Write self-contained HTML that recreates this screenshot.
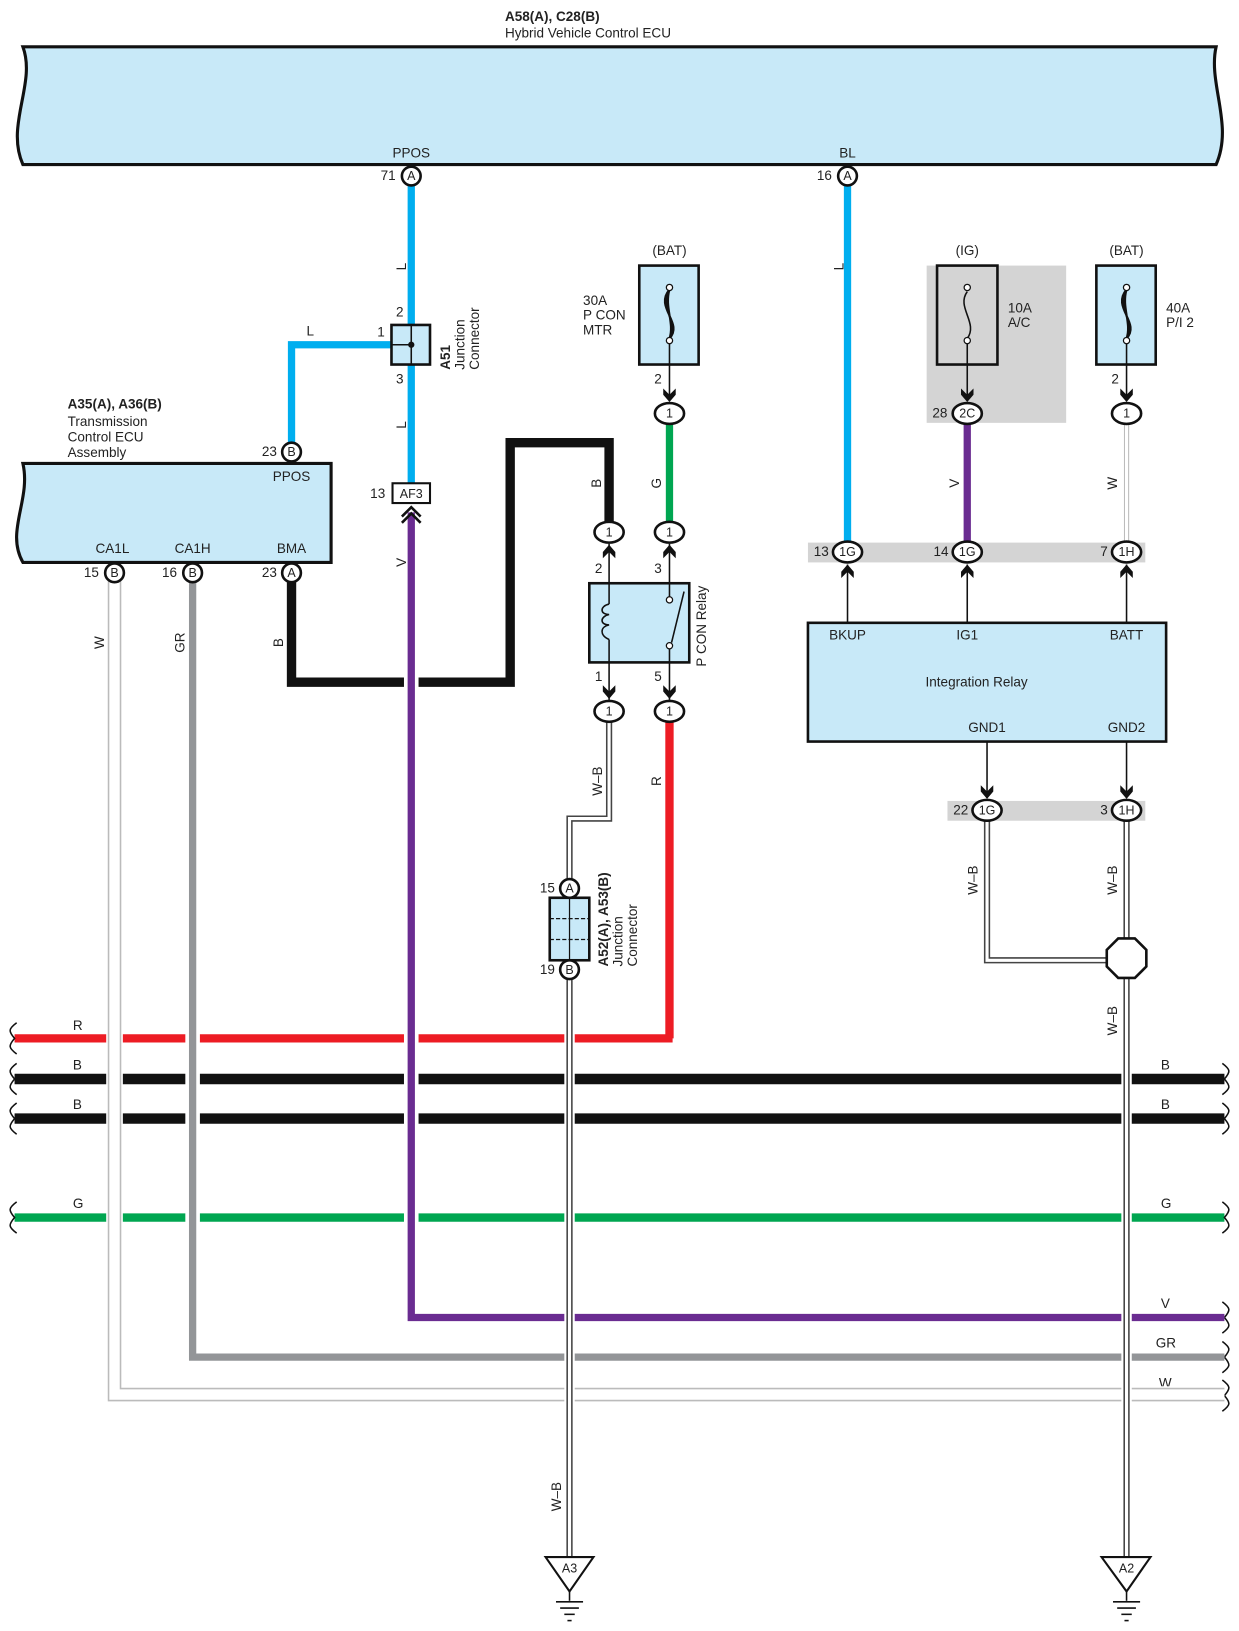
<!DOCTYPE html>
<html><head><meta charset="utf-8"><style>
html,body{margin:0;padding:0;background:#fff}
svg{display:block}
text{font-family:"Liberation Sans Narrow","Liberation Sans",sans-serif;font-size:13px;fill:#222}
.b{font-weight:bold}
.c{text-anchor:middle}
.e{text-anchor:end}
.cn{fill:#fff;stroke:#111;stroke-width:2.5}
.ci{font-size:12px;text-anchor:middle;font-weight:500}
</style></head><body>
<svg width="1239" height="1631" viewBox="0 0 1190 1566" preserveAspectRatio="none" xmlns="http://www.w3.org/2000/svg">
<defs>
<g id="ad"><path d="M-6,-9 L0,-3 L6,-9 L6,-3 L0,4 L-6,-3 Z" fill="#111"/></g>
<g id="au"><path d="M-6,9 L0,3 L6,9 L6,3 L0,-4 L-6,3 Z" fill="#111"/></g>
</defs>

<!-- top ECU -->
<text x="485" y="20" class="b">A58(A), C28(B)</text>
<text x="485" y="36">Hybrid Vehicle Control ECU</text>
<path d="M22,45 L1168,45 C1160,80 1185,120 1168,158 L22,158 C5,120 35,80 22,45 Z" fill="#c8e9f8" stroke="#111" stroke-width="3"/>
<text x="395" y="151" class="c">PPOS</text>
<text x="814" y="151" class="c">BL</text>

<!-- horizontal bus wires -->
<line x1="14" y1="997" x2="646" y2="997" stroke="#ed1c24" stroke-width="8"/>
<polyline points="643,691 643,997" fill="none" stroke="#ed1c24" stroke-width="8"/>
<line x1="14" y1="1036" x2="1176" y2="1036" stroke="#111" stroke-width="10"/>
<line x1="14" y1="1074" x2="1176" y2="1074" stroke="#111" stroke-width="10"/>
<line x1="14" y1="1169" x2="1176" y2="1169" stroke="#00a651" stroke-width="8"/>
<g fill="none" stroke="#111" stroke-width="1.5">
<path d="M16,982 C8,988 8,990 14,997 C8,1004 8,1006 16,1012"/>
<path d="M16,1021 C8,1027 8,1029 14,1036 C8,1043 8,1045 16,1051"/>
<path d="M16,1059 C8,1065 8,1067 14,1074 C8,1081 8,1083 16,1089"/>
<path d="M16,1154 C8,1160 8,1162 14,1169 C8,1176 8,1178 16,1184"/>
<path d="M1174,1021 C1182,1027 1182,1029 1176,1036 C1182,1043 1182,1045 1174,1051"/>
<path d="M1174,1059 C1182,1065 1182,1067 1176,1074 C1182,1081 1182,1083 1174,1089"/>
<path d="M1174,1154 C1182,1160 1182,1162 1176,1169 C1182,1176 1182,1178 1174,1184"/>
<path d="M1174,1250 C1182,1256 1182,1258 1176,1265 C1182,1272 1182,1274 1174,1280"/>
<path d="M1174,1288 C1182,1294 1182,1296 1176,1303 C1182,1310 1182,1312 1174,1318"/>
<path d="M1174,1325 C1182,1331 1182,1333 1176,1340 C1182,1347 1182,1349 1174,1355"/>
</g>
<text x="70" y="989">R</text><text x="70" y="1027">B</text><text x="70" y="1065">B</text><text x="70" y="1160">G</text>
<text x="1115" y="1027">B</text><text x="1115" y="1065">B</text><text x="1115" y="1160">G</text>
<text x="1115" y="1256">V</text><text x="1110" y="1294">GR</text><text x="1113" y="1332">W</text>

<!-- W wire -->
<polyline points="110,558 110,1339 1176,1339" fill="none" stroke="#fff" stroke-width="16"/>
<polyline points="110,558 110,1339 1176,1339" fill="none" stroke="#bbb" stroke-width="13"/>
<polyline points="110,558 110,1339 1176,1339" fill="none" stroke="#fff" stroke-width="10"/>
<!-- GR wire -->
<polyline points="185,558 185,1303 1176,1303" fill="none" stroke="#fff" stroke-width="14"/>
<polyline points="185,558 185,1303 1176,1303" fill="none" stroke="#939598" stroke-width="7"/>
<!-- B loop -->
<polyline points="280,558 280,655 490,655 490,425 585,425 585,503" fill="none" stroke="#111" stroke-width="9"/>
<!-- V wire -->
<polyline points="395,492 395,1265 1176,1265" fill="none" stroke="#fff" stroke-width="14"/>
<polyline points="395,492 395,1265 1176,1265" fill="none" stroke="#6a2c91" stroke-width="7"/>
<!-- blue wires -->
<line x1="395" y1="178" x2="395" y2="464" stroke="#00aeef" stroke-width="7"/>
<polyline points="395,331 280,331 280,426" fill="none" stroke="#00aeef" stroke-width="7"/>
<line x1="814" y1="178" x2="814" y2="522" stroke="#00aeef" stroke-width="7"/>

<!-- W-B wires -->
<g fill="none">
<polyline points="585,691 585,786 547,786 547,845" stroke="#fff" stroke-width="10"/>
<polyline points="585,691 585,786 547,786 547,845" stroke="#444" stroke-width="6"/>
<polyline points="585,691 585,786 547,786 547,845" stroke="#fff" stroke-width="3"/>
<polyline points="547,939 547,1495" stroke="#fff" stroke-width="10"/>
<polyline points="547,939 547,1495" stroke="#444" stroke-width="6"/>
<polyline points="547,939 547,1495" stroke="#fff" stroke-width="3"/>
<polyline points="948,786 948,922 1070,922" stroke="#444" stroke-width="6"/>
<polyline points="948,786 948,922 1070,922" stroke="#fff" stroke-width="3"/>
<polyline points="1082,786 1082,1495" stroke="#fff" stroke-width="10"/>
<polyline points="1082,786 1082,1495" stroke="#444" stroke-width="6"/>
<polyline points="1082,786 1082,1495" stroke="#fff" stroke-width="3"/>
</g>
<line x1="643" y1="405" x2="643" y2="503" stroke="#00a651" stroke-width="7"/>
<line x1="929" y1="405" x2="929" y2="522" stroke="#6a2c91" stroke-width="7"/>
<line x1="1082" y1="405" x2="1082" y2="522" stroke="#bbb" stroke-width="5"/>
<line x1="1082" y1="405" x2="1082" y2="522" stroke="#fff" stroke-width="3"/>

<!-- connectors top -->
<circle cx="395" cy="169" r="9" class="cn"/><text x="395" y="173" class="ci">A</text><text x="380" y="173" class="e">71</text>
<circle cx="814" cy="169" r="9" class="cn"/><text x="814" y="173" class="ci">A</text><text x="799" y="173" class="e">16</text>
<text x="386" y="260" transform="rotate(-90 386 256)" class="c">L</text>
<text x="806" y="260" transform="rotate(-90 806 256)" class="c">L</text>
<text x="386" y="412" transform="rotate(-90 386 408)" class="c">L</text>
<text x="386" y="544" transform="rotate(-90 386 540)" class="c">V</text>

<!-- A51 -->
<rect x="376" y="312" width="37" height="38" fill="#c8e9f8" stroke="#111" stroke-width="2.5"/>
<line x1="395" y1="312" x2="395" y2="350" stroke="#111" stroke-width="1.5"/>
<line x1="376" y1="331" x2="395" y2="331" stroke="#111" stroke-width="1.5"/>
<circle cx="395" cy="331" r="3" fill="#111"/>
<text x="384" y="304" class="c">2</text><text x="366" y="323" class="c">1</text><text x="384" y="368" class="c">3</text>
<text x="298" y="322" class="c">L</text>
<text transform="translate(432,355) rotate(-90)" class="b">A51</text>
<text transform="translate(446,355) rotate(-90)">Junction</text>
<text transform="translate(460,355) rotate(-90)">Connector</text>

<!-- AF3 -->
<rect x="377" y="464" width="36" height="19" fill="#fff" stroke="#111" stroke-width="2"/>
<text x="395" y="478" class="c" style="font-size:12px">AF3</text>
<text x="370" y="478" class="e">13</text>
<path d="M386,496 L395,487 L404,496 M386,502 L395,493 L404,502" fill="none" stroke="#111" stroke-width="2.5"/>

<!-- Transmission ECU -->
<text x="65" y="392" class="b">A35(A), A36(B)</text>
<text x="65" y="409">Transmission</text>
<text x="65" y="424">Control ECU</text>
<text x="65" y="439">Assembly</text>
<path d="M22,445 L318,445 L318,540 L22,540 C5,510 30,480 22,445 Z" fill="#c8e9f8" stroke="#111" stroke-width="3"/>
<text x="280" y="462" class="c">PPOS</text>
<text x="108" y="531" class="c">CA1L</text><text x="185" y="531" class="c">CA1H</text><text x="280" y="531" class="c">BMA</text>
<circle cx="280" cy="434" r="9" class="cn"/><text x="280" y="438" class="ci">B</text><text x="266" y="438" class="e">23</text>
<circle cx="110" cy="550" r="9" class="cn"/><text x="110" y="554" class="ci">B</text><text x="95" y="554" class="e">15</text>
<circle cx="185" cy="550" r="9" class="cn"/><text x="185" y="554" class="ci">B</text><text x="170" y="554" class="e">16</text>
<circle cx="280" cy="550" r="9" class="cn"/><text x="280" y="554" class="ci">A</text><text x="266" y="554" class="e">23</text>
<text transform="translate(100,617) rotate(-90)" class="c">W</text>
<text transform="translate(177,617) rotate(-90)" class="c">GR</text>
<text transform="translate(272,617) rotate(-90)" class="c">B</text>
<text transform="translate(577,464) rotate(-90)" class="c">B</text>
<text transform="translate(635,464) rotate(-90)" class="c">G</text>

<!-- BAT fuse left -->
<text x="643" y="245" class="c">(BAT)</text>
<rect x="614" y="255" width="57" height="95" fill="#c8e9f8" stroke="#111" stroke-width="2.5"/>
<path d="M643,278 C628,295 657,310 643,325 M643,278 C633,295 652,310 643,325 M643,278 C638,295 648,310 643,325" fill="none" stroke="#111" stroke-width="2"/>
<circle cx="643" cy="276" r="3" fill="#fff" stroke="#111" stroke-width="1.2"/><circle cx="643" cy="327" r="3" fill="#fff" stroke="#111" stroke-width="1.2"/>
<line x1="643" y1="330" x2="643" y2="385" stroke="#111" stroke-width="1.5"/>
<text x="560" y="293">30A</text><text x="560" y="307">P CON</text><text x="560" y="321">MTR</text>
<text x="632" y="368" class="c">2</text>
<use href="#ad" x="643" y="382"/>
<ellipse cx="643" cy="397" rx="14" ry="10" class="cn"/><text x="643" y="401" class="ci">1</text>

<ellipse cx="585" cy="511" rx="14" ry="10" class="cn"/><text x="585" y="515" class="ci">1</text>
<ellipse cx="643" cy="511" rx="14" ry="10" class="cn"/><text x="643" y="515" class="ci">1</text>
<use href="#au" x="585" y="527"/><use href="#au" x="643" y="527"/>
<text x="575" y="550" class="c">2</text><text x="632" y="550" class="c">3</text>
<rect x="566" y="560" width="96" height="76" fill="#c8e9f8" stroke="#111" stroke-width="2.5"/>
<line x1="585" y1="522" x2="585" y2="580" stroke="#111" stroke-width="1.5"/>
<line x1="585" y1="614" x2="585" y2="672" stroke="#111" stroke-width="1.5"/>
<path d="M585,580 C576,582 576,590 585,590 C576,592 576,600 585,600 C576,602 576,610 585,614" fill="none" stroke="#111" stroke-width="1.5"/>
<line x1="643" y1="522" x2="643" y2="573" stroke="#111" stroke-width="1.5"/>
<line x1="643" y1="623" x2="643" y2="672" stroke="#111" stroke-width="1.5"/>
<circle cx="643" cy="576" r="3" fill="#fff" stroke="#111" stroke-width="1.2"/><circle cx="643" cy="620" r="3" fill="#fff" stroke="#111" stroke-width="1.2"/>
<line x1="645" y1="617" x2="657" y2="568" stroke="#111" stroke-width="1.5"/>
<text transform="translate(678,640) rotate(-90)">P CON Relay</text>
<text x="575" y="654" class="c">1</text><text x="632" y="654" class="c">5</text>
<use href="#ad" x="585" y="667"/><use href="#ad" x="643" y="667"/>
<ellipse cx="585" cy="683" rx="14" ry="10" class="cn"/><text x="585" y="687" class="ci">1</text>
<ellipse cx="643" cy="683" rx="14" ry="10" class="cn"/><text x="643" y="687" class="ci">1</text>
<text transform="translate(578,750) rotate(-90)" class="c">W–B</text>
<text transform="translate(635,750) rotate(-90)" class="c">R</text>

<!-- A52 junction -->
<rect x="528" y="862" width="38" height="60" fill="#c8e9f8" stroke="#111" stroke-width="2.5"/>
<line x1="547" y1="862" x2="547" y2="922" stroke="#111" stroke-width="1.2"/>
<line x1="528" y1="882" x2="566" y2="882" stroke="#111" stroke-width="1.2" stroke-dasharray="4,2"/>
<line x1="528" y1="902" x2="566" y2="902" stroke="#111" stroke-width="1.2" stroke-dasharray="4,2"/>
<circle cx="547" cy="853" r="9" class="cn"/><text x="547" y="857" class="ci">A</text><text x="533" y="857" class="e">15</text>
<circle cx="547" cy="931" r="9" class="cn"/><text x="547" y="935" class="ci">B</text><text x="533" y="935" class="e">19</text>
<text transform="translate(584,928) rotate(-90)" class="b">A52(A), A53(B)</text>
<text transform="translate(598,928) rotate(-90)">Junction</text>
<text transform="translate(612,928) rotate(-90)">Connector</text>
<text transform="translate(539,1437) rotate(-90)" class="c">W–B</text>

<!-- grounds -->
<g stroke="#111" stroke-width="2" fill="#fff">
<path d="M524,1495 L570,1495 L547,1528 Z"/>
<path d="M1058,1495 L1105,1495 L1082,1528 Z"/>
</g>
<g stroke="#111" stroke-width="1.5">
<line x1="547" y1="1528" x2="547" y2="1537"/><line x1="534" y1="1538" x2="560" y2="1538"/><line x1="538" y1="1544" x2="556" y2="1544"/><line x1="542" y1="1550" x2="552" y2="1550"/><line x1="545" y1="1556" x2="549" y2="1556"/>
<line x1="1082" y1="1528" x2="1082" y2="1537"/><line x1="1069" y1="1538" x2="1095" y2="1538"/><line x1="1073" y1="1544" x2="1091" y2="1544"/><line x1="1077" y1="1550" x2="1087" y2="1550"/><line x1="1080" y1="1556" x2="1084" y2="1556"/>
</g>
<text x="547" y="1510" class="c" style="font-size:12px">A3</text>
<text x="1082" y="1510" class="c" style="font-size:12px">A2</text>

<!-- right side fuses -->
<rect x="890" y="255" width="134" height="151" fill="#d4d4d4"/>
<text x="929" y="245" class="c">(IG)</text>
<rect x="900" y="255" width="58" height="95" fill="#d4d4d4" stroke="#111" stroke-width="2.5"/>
<path d="M929,280 C918,295 940,310 929,325" fill="none" stroke="#111" stroke-width="1.5"/>
<circle cx="929" cy="276" r="3" fill="#fff" stroke="#111" stroke-width="1.2"/><circle cx="929" cy="327" r="3" fill="#fff" stroke="#111" stroke-width="1.2"/>
<line x1="929" y1="330" x2="929" y2="385" stroke="#111" stroke-width="1.5"/>
<text x="968" y="300">10A</text><text x="968" y="314">A/C</text>
<use href="#ad" x="929" y="382"/>
<ellipse cx="929" cy="397" rx="14" ry="10" class="cn"/><text x="929" y="401" class="ci">2C</text><text x="910" y="401" class="e">28</text>

<text x="1082" y="245" class="c">(BAT)</text>
<rect x="1053" y="255" width="57" height="95" fill="#c8e9f8" stroke="#111" stroke-width="2.5"/>
<path d="M1082,278 C1067,295 1096,310 1082,325 M1082,278 C1072,295 1091,310 1082,325 M1082,278 C1077,295 1087,310 1082,325" fill="none" stroke="#111" stroke-width="2"/>
<circle cx="1082" cy="276" r="3" fill="#fff" stroke="#111" stroke-width="1.2"/><circle cx="1082" cy="327" r="3" fill="#fff" stroke="#111" stroke-width="1.2"/>
<line x1="1082" y1="330" x2="1082" y2="385" stroke="#111" stroke-width="1.5"/>
<text x="1120" y="300">40A</text><text x="1120" y="314">P/I 2</text>
<text x="1071" y="368" class="c">2</text>
<use href="#ad" x="1082" y="382"/>
<ellipse cx="1082" cy="397" rx="14" ry="10" class="cn"/><text x="1082" y="401" class="ci">1</text>
<text transform="translate(921,464) rotate(-90)" class="c">V</text>
<text transform="translate(1073,464) rotate(-90)" class="c">W</text>

<rect x="776" y="521" width="324" height="19" fill="#d4d4d4"/>
<ellipse cx="814" cy="530" rx="14" ry="10" class="cn"/><text x="814" y="534" class="ci">1G</text><text x="796" y="534" class="e">13</text>
<ellipse cx="929" cy="530" rx="14" ry="10" class="cn"/><text x="929" y="534" class="ci">1G</text><text x="911" y="534" class="e">14</text>
<ellipse cx="1082" cy="530" rx="14" ry="10" class="cn"/><text x="1082" y="534" class="ci">1H</text><text x="1064" y="534" class="e">7</text>
<g stroke="#111" stroke-width="1.5">
<line x1="814" y1="542" x2="814" y2="598"/><line x1="929" y1="542" x2="929" y2="598"/><line x1="1082" y1="542" x2="1082" y2="598"/>
<line x1="948" y1="712" x2="948" y2="766"/><line x1="1082" y1="712" x2="1082" y2="766"/>
</g>
<use href="#au" x="814" y="546"/><use href="#au" x="929" y="546"/><use href="#au" x="1082" y="546"/>
<rect x="776" y="598" width="344" height="114" fill="#c8e9f8" stroke="#111" stroke-width="2.5"/>
<text x="814" y="614" class="c">BKUP</text><text x="929" y="614" class="c">IG1</text><text x="1082" y="614" class="c">BATT</text>
<text x="938" y="659" class="c">Integration Relay</text>
<text x="948" y="703" class="c">GND1</text><text x="1082" y="703" class="c">GND2</text>
<use href="#ad" x="948" y="763"/><use href="#ad" x="1082" y="763"/>
<rect x="910" y="769" width="190" height="19" fill="#d4d4d4"/>
<ellipse cx="948" cy="778" rx="14" ry="10" class="cn"/><text x="948" y="782" class="ci">1G</text><text x="930" y="782" class="e">22</text>
<ellipse cx="1082" cy="778" rx="14" ry="10" class="cn"/><text x="1082" y="782" class="ci">1H</text><text x="1064" y="782" class="e">3</text>
<text transform="translate(939,845) rotate(-90)" class="c">W–B</text>
<text transform="translate(1073,845) rotate(-90)" class="c">W–B</text>
<text transform="translate(1073,980) rotate(-90)" class="c">W–B</text>
<polygon points="1074,901 1090,901 1101,912 1101,928 1090,939 1074,939 1063,928 1063,912" fill="#fff" stroke="#111" stroke-width="2.5"/>
</svg>
</body></html>
